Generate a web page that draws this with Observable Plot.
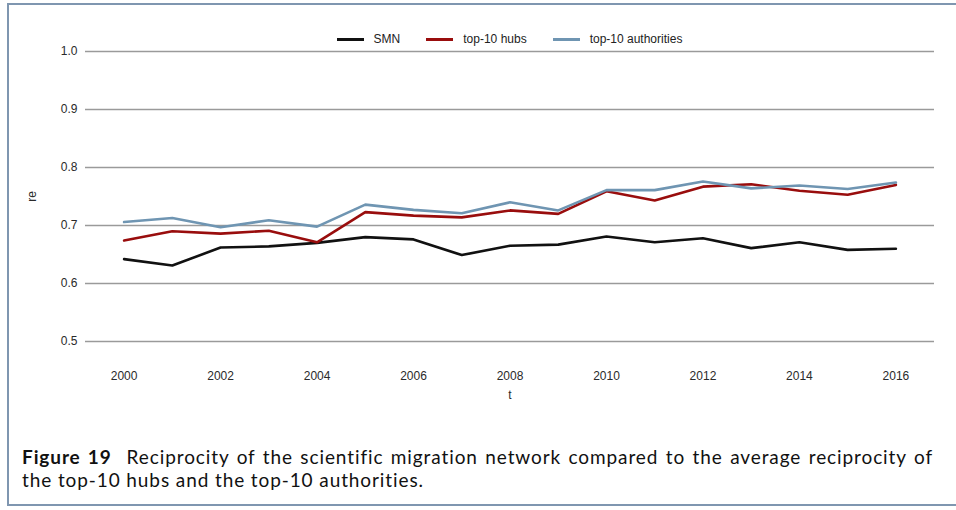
<!DOCTYPE html>
<html>
<head>
<meta charset="utf-8">
<script src="https://cdn.jsdelivr.net/npm/d3@7"></script>
<script src="https://cdn.jsdelivr.net/npm/@observablehq/plot@0.6"></script>
<style>
  html, body { margin: 0; padding: 0; background: #fff; overflow: hidden; }
  #wrap { position: relative; width: 956px; height: 510px; }
  #frame { position: absolute; left: 7px; top: 3px; width: 960px; height: 503px;
           border: 2px solid #7f96b0; border-right: none; box-sizing: border-box; }
  #chart { position: absolute; left: 0; top: 0; }
  #legend { position: absolute; left: 85px; top: 32px; width: 849px; display: flex;
            justify-content: center; align-items: center; font-family: "Liberation Sans", Arial, sans-serif;
            font-size: 12px; color: #222; }
  #legend .item { display: flex; align-items: center; margin: 0 13px; }
  #legend .key { width: 27px; height: 3px; margin-right: 10px; }
  #caption { position: absolute; left: 22px; top: 445px; width: 911px; font-family: Lato, "Noto Sans", sans-serif;
             font-size: 19px; line-height: 23px; color: #111; letter-spacing: 0.9px; }
  #caption .l1 { display: block; text-align: justify; text-align-last: justify; white-space: nowrap; }
  #caption .l2 { display: block; text-align: left; white-space: nowrap; }
  #caption b { font-weight: 700; }
</style>
</head>
<body>
<div id="wrap">
  <div id="frame"></div>
  <div id="chart"></div>
  <div id="legend"></div>
  <div id="caption"><span class="l1"><b>Figure 19</b>&nbsp; Reciprocity of the scientific migration network compared to the average reciprocity of</span><span class="l2">the top-10 hubs and the top-10 authorities.</span></div>
</div>
<script>
const years = [2000, 2001, 2002, 2003, 2004, 2005, 2006, 2007, 2008, 2009, 2010, 2011, 2012, 2013, 2014, 2015, 2016];
const smn = [0.642, 0.631, 0.662, 0.664, 0.670, 0.680, 0.676, 0.649, 0.665, 0.667, 0.681, 0.671, 0.678, 0.661, 0.671, 0.658, 0.660];
const hubs = [0.674, 0.690, 0.686, 0.691, 0.671, 0.723, 0.717, 0.714, 0.726, 0.720, 0.759, 0.743, 0.767, 0.771, 0.760, 0.753, 0.770];
const authorities = [0.706, 0.713, 0.697, 0.709, 0.698, 0.736, 0.727, 0.721, 0.740, 0.726, 0.761, 0.761, 0.776, 0.764, 0.769, 0.763, 0.774];
const seriesNames = ["SMN", "top-10 hubs", "top-10 authorities"];
const seriesColors = ["#111111", "#990d0d", "#6f95b2"];
const xTicks = [2000, 2002, 2004, 2006, 2008, 2010, 2012, 2014, 2016];
const yTicks = [0.5, 0.6, 0.7, 0.8, 0.9, 1.0];

const seriesValues = [smn, hubs, authorities];
const data = [];
seriesNames.forEach((name, i) => {
  years.forEach((t, j) => data.push({ t, re: seriesValues[i][j], series: name }));
});

const chart = Plot.plot({
  width: 956,
  height: 420,
  marginLeft: 85,
  marginRight: 22,
  marginTop: 51,
  marginBottom: 79,
  style: { fontFamily: "'Liberation Sans', Arial, sans-serif", fontSize: "12px", color: "#2a2a2a", background: "transparent" },
  x: { domain: [1999.2, 2016.8], label: "t" },
  y: { domain: [0.5, 1.0], label: "re" },
  color: { domain: seriesNames, range: seriesColors },
  marks: [
    Plot.gridY(yTicks, { stroke: "#9a9a9a", strokeOpacity: 1, strokeWidth: 1.4 }),
    Plot.axisY(yTicks, { tickSize: 0, tickPadding: 8, tickFormat: d3.format(".1f"), label: "re", labelAnchor: "center", labelArrow: "none", labelOffset: 58, fontSize: 12 }),
    Plot.axisX(xTicks, { tickSize: 0, tickPadding: 30, tickFormat: d => String(d), label: "t", labelAnchor: "center", labelArrow: "none", labelOffset: 57, fontSize: 12 }),
    Plot.line(data, { x: "t", y: "re", stroke: "series", strokeWidth: 2.6, strokeLinejoin: "miter" })
  ]
});
document.getElementById("chart").appendChild(chart);

const legend = document.getElementById("legend");
seriesNames.forEach((name, i) => {
  const item = document.createElement("div");
  item.className = "item";
  const key = document.createElement("span");
  key.className = "key";
  key.style.background = seriesColors[i];
  const label = document.createElement("span");
  label.textContent = name;
  item.appendChild(key);
  item.appendChild(label);
  legend.appendChild(item);
});
</script>
</body>
</html>
